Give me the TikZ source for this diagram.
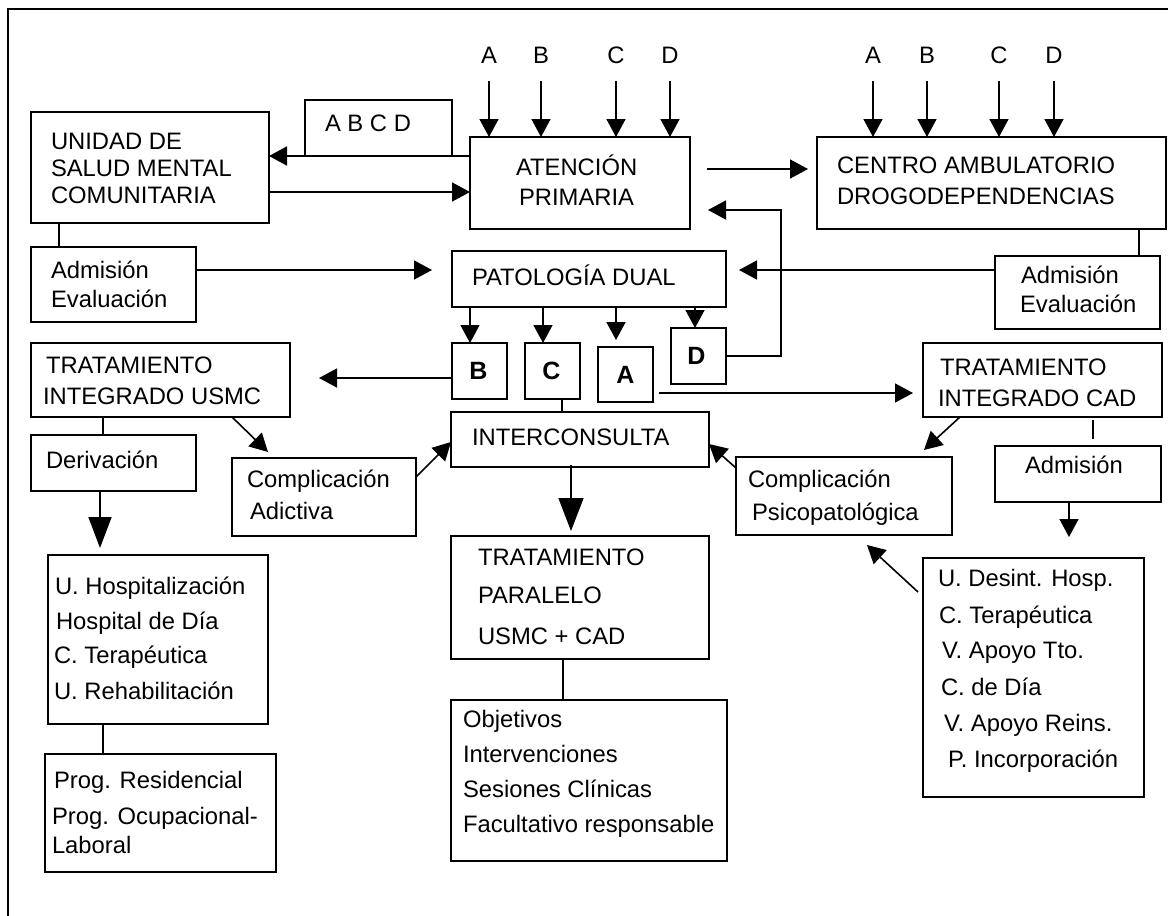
\documentclass[tikz,border=0pt]{standalone}
\usepackage{fontspec}
\setmainfont{Liberation Sans}
\usetikzlibrary{arrows.meta}
\newcommand\mybox[5]{\node[box, minimum width={(#4-#2)*1pt}, minimum height={(#5-#3)*1pt}] (#1) at (#2,#3) {};}
\newcommand\tx[4]{\node[txt] (#1) at (#2,#3) {#4};}
\begin{document}
\begin{tikzpicture}[x=1pt,y=-1pt,
  box/.style={draw, line width=1.8pt, inner sep=0pt, outer sep=0pt, anchor=north west},
  txt/.style={inner sep=0pt, outer sep=0pt, anchor=base west, font=\fontsize{23.8}{28}\selectfont},
  lbl/.style={inner sep=0pt, outer sep=0pt, anchor=base, font=\fontsize{23.8}{28}\selectfont},
  letter/.style={inner sep=0pt, font=\fontsize{25}{28}\selectfont\bfseries},
  conn/.style={line width=1.6pt},
  arr/.style={line width=1.6pt, -{Triangle[length=18pt,width=19pt]}},
  bigarr/.style={line width=1.6pt, -{Triangle[length=33pt,width=25pt]}},
  midarr/.style={line width=1.6pt, -{Triangle[length=31pt,width=23pt]}},
  frame/.style={line width=2pt}]
\useasboundingbox (0,0) rectangle (1168,916);
% frame
\coordinate (fTR) at (1168,9);
\coordinate (fTL) at (8,9);
\coordinate (fBL) at (8,916);
\draw[frame] (fTR) -- (fTL) -- (fBL);

% boxes
\mybox{usmc}{31}{112}{269}{223}
\mybox{abcd}{305}{100}{452}{156}
\mybox{aten}{470}{137}{690}{229}
\mybox{cad}{817}{137}{1166}{229}
\mybox{adm1}{31}{247}{196}{322}
\mybox{pat}{452}{251}{726}{307}
\mybox{adm2}{995}{256}{1160}{329}
\mybox{bB}{452}{343}{507}{399}
\mybox{bC}{525}{343}{580}{399}
\mybox{bA}{598}{347}{653}{402}
\mybox{bD}{671}{328}{726}{384}
\mybox{tusmc}{31}{343}{290}{417}
\mybox{tcad}{923}{343}{1162}{417}
\mybox{inter}{451}{412}{709}{467}
\mybox{deriv}{31}{435}{196}{491}
\mybox{cadic}{232}{458}{416}{536}
\mybox{cpsico}{736}{457}{952}{535}
\mybox{adm3}{995}{446}{1161}{502}
\mybox{paral}{451}{536}{709}{659}
\mybox{hosp}{48}{555}{268}{724}
\mybox{udes}{923}{558}{1144}{797}
\mybox{obj}{451}{700}{727}{861}
\mybox{prog}{45}{754}{276}{872}

% texts
\tx{t1}{51}{149}{UNIDAD DE}
\tx{t2}{51}{176}{SALUD MENTAL}
\tx{t3}{51}{203}{COMUNITARIA}
\tx{t4}{325}{131}{A B C D}
\tx{t5}{516}{175}{ATENCIÓN}
\tx{t6}{519}{205}{PRIMARIA}
\tx{t7}{837}{173}{CENTRO AMBULATORIO}
\tx{t8}{837}{204}{DROGODEPENDENCIAS}
\tx{t9}{51}{278}{Admisión}
\tx{t10}{51}{307}{Evaluación}
\tx{t11}{472}{285}{PATOLOGÍA DUAL}
\tx{t12}{1021}{283}{Admisión}
\tx{t13}{1020}{312}{Evaluación}
\node[letter] (lB) at ([xshift=-1pt]bB.center) {B};
\node[letter] (lC) at ([xshift=-1pt]bC.center) {C};
\node[letter] (lA) at (bA.center) {A};
\node[letter] (lD) at ([xshift=-2pt]bD.center) {D};
\tx{t14}{46}{373}{TRATAMIENTO}
\tx{t15}{43}{404}{INTEGRADO USMC}
\tx{t16}{940}{375}{TRATAMIENTO}
\tx{t17}{938}{406}{INTEGRADO CAD}
\tx{t18}{472}{445}{INTERCONSULTA}
\tx{t19}{46}{468}{Derivación}
\tx{t20}{247}{487}{Complicación}
\tx{t21}{250}{519}{Adictiva}
\tx{t22}{748}{487}{Complicación}
\tx{t23}{752}{520}{Psicopatológica}
\tx{t24}{1025}{473}{Admisión}
\tx{t25}{478}{565}{TRATAMIENTO}
\tx{t26}{478}{603}{PARALELO}
\tx{t27}{478}{644}{USMC + CAD}
\tx{t28}{55}{594}{U. Hospitalización}
\tx{t29}{56}{629}{Hospital de Día}
\tx{t30}{54}{663}{C. Terapéutica}
\tx{t31}{54}{699}{U. Rehabilitación}
\tx{t32}{938}{586}{U. Desint. Hosp.}
\tx{t33}{939}{623}{C. Terapéutica}
\tx{t34}{942}{658}{V. Apoyo Tto.}
\tx{t35}{941}{695}{C. de Día}
\tx{t36}{944}{731}{V. Apoyo Reins.}
\tx{t37}{948}{767}{P. Incorporación}
\tx{t38}{463}{727}{Objetivos}
\tx{t39}{463}{762}{Intervenciones}
\tx{t40}{463}{797}{Sesiones Clínicas}
\tx{t41}{463}{832}{Facultativo responsable}
\tx{t42}{54}{788}{Prog. Residencial}
\tx{t43}{52}{824}{Prog. Ocupacional-}
\tx{t44}{52}{853}{Laboral}

% top labels
\node[lbl] (qa1) at (489,63) {A};
\node[lbl] (qb1) at (541,63) {B};
\node[lbl] (qc1) at (616,63) {C};
\node[lbl] (qd1) at (670,63) {D};
\node[lbl] (qa2) at (873,63) {A};
\node[lbl] (qb2) at (927,63) {B};
\node[lbl] (qc2) at (999,63) {C};
\node[lbl] (qd2) at (1054,63) {D};
\foreach \q in {qa1,qb1,qc1,qd1}{\draw[arr] (\q |- 0,81) -- (aten.north -| \q);}
\foreach \q in {qa2,qb2,qc2,qd2}{\draw[arr] (\q |- 0,81) -- (cad.north -| \q);}

% free-end coordinates
\coordinate (patL) at (432,270);
\coordinate (patR) at (739,270);
\coordinate (atenOut) at (707,169);
\coordinate (cadIn) at (808,169);
\coordinate (dTurn) at (781,210);
\coordinate (atenIn) at (708,210);
\coordinate (tusmcIn) at (319,378);
\coordinate (aOut) at (659,393);
\coordinate (tcadIn) at (913,393);
\coordinate (cadicIn) at (268,452);
\coordinate (cpsIn) at (924,450);
\coordinate (cpsIn2) at (867,545);
\coordinate (udesOut) at (918,592);
\coordinate (tcadS1) at (1093,420);
\coordinate (tcadS2) at (1093,439);
\coordinate (adm3Out) at (1069,502);
\coordinate (udesIn) at (1069,537);
\coordinate (interOut) at (571,465);
\coordinate (paralIn) at (571,531);
\coordinate (derivIn) at (100,548);
\coordinate (aIn) at (616,340);

% connectors
\draw[arr] (aten.west |- 0,156) -- (usmc.east |- 0,156);
\draw[arr] (usmc.east |- 0,192) -- (aten.west |- 0,192);
\draw[conn] (usmc.south -| 59,0) -- (adm1.north -| 59,0);
\draw[arr] (adm1.east |- patL) -- (patL);
\draw[arr] (atenOut) -- (cadIn);
\draw[arr] (bD.east) -| (dTurn) -- (atenIn);
\draw[arr] (adm2.west |- patR) -- (patR);
\draw[conn] (cad.south -| 1139,0) -- (adm2.north -| 1139,0);
\draw[arr] (pat.south -| 470,0) -- (bB.north -| 470,0);
\draw[arr] (pat.south -| 543,0) -- (bC.north -| 543,0);
\draw[arr] (pat.south -| aIn) -- (aIn);
\draw[arr] (pat.south -| 695,0) -- (bD.north -| 695,0);
\draw[arr] (bB.west |- tusmcIn) -- (tusmcIn);
\draw[arr] (aOut) -- (tcadIn);
\draw[conn] (bC.south -| 562,0) -- (inter.north -| 562,0);
\draw[arr] (tusmc.south -| 232,0) -- (cadicIn);
\draw[arr] (cadic.east |- 0,477) -- (inter.west |- 0,442);
\draw[arr] (tcad.south -| 960,0) -- (cpsIn);
\draw[arr] (cpsico.west |- 0,468) -- (inter.east |- 0,444);
\draw[arr] (udesOut) -- (cpsIn2);
\draw[conn] (tcadS1) -- (tcadS2);
\draw[arr] (adm3Out) -- (udesIn);
\draw[bigarr] (interOut) -- (paralIn);
\draw[conn] (paral.south -| 563,0) -- (obj.north -| 563,0);
\draw[conn] (tusmc.south -| 103,0) -- (deriv.north -| 103,0);
\draw[midarr] (deriv.south -| derivIn) -- (derivIn);
\draw[conn] (hosp.south -| 103,0) -- (prog.north -| 103,0);
\end{tikzpicture}
\end{document}
